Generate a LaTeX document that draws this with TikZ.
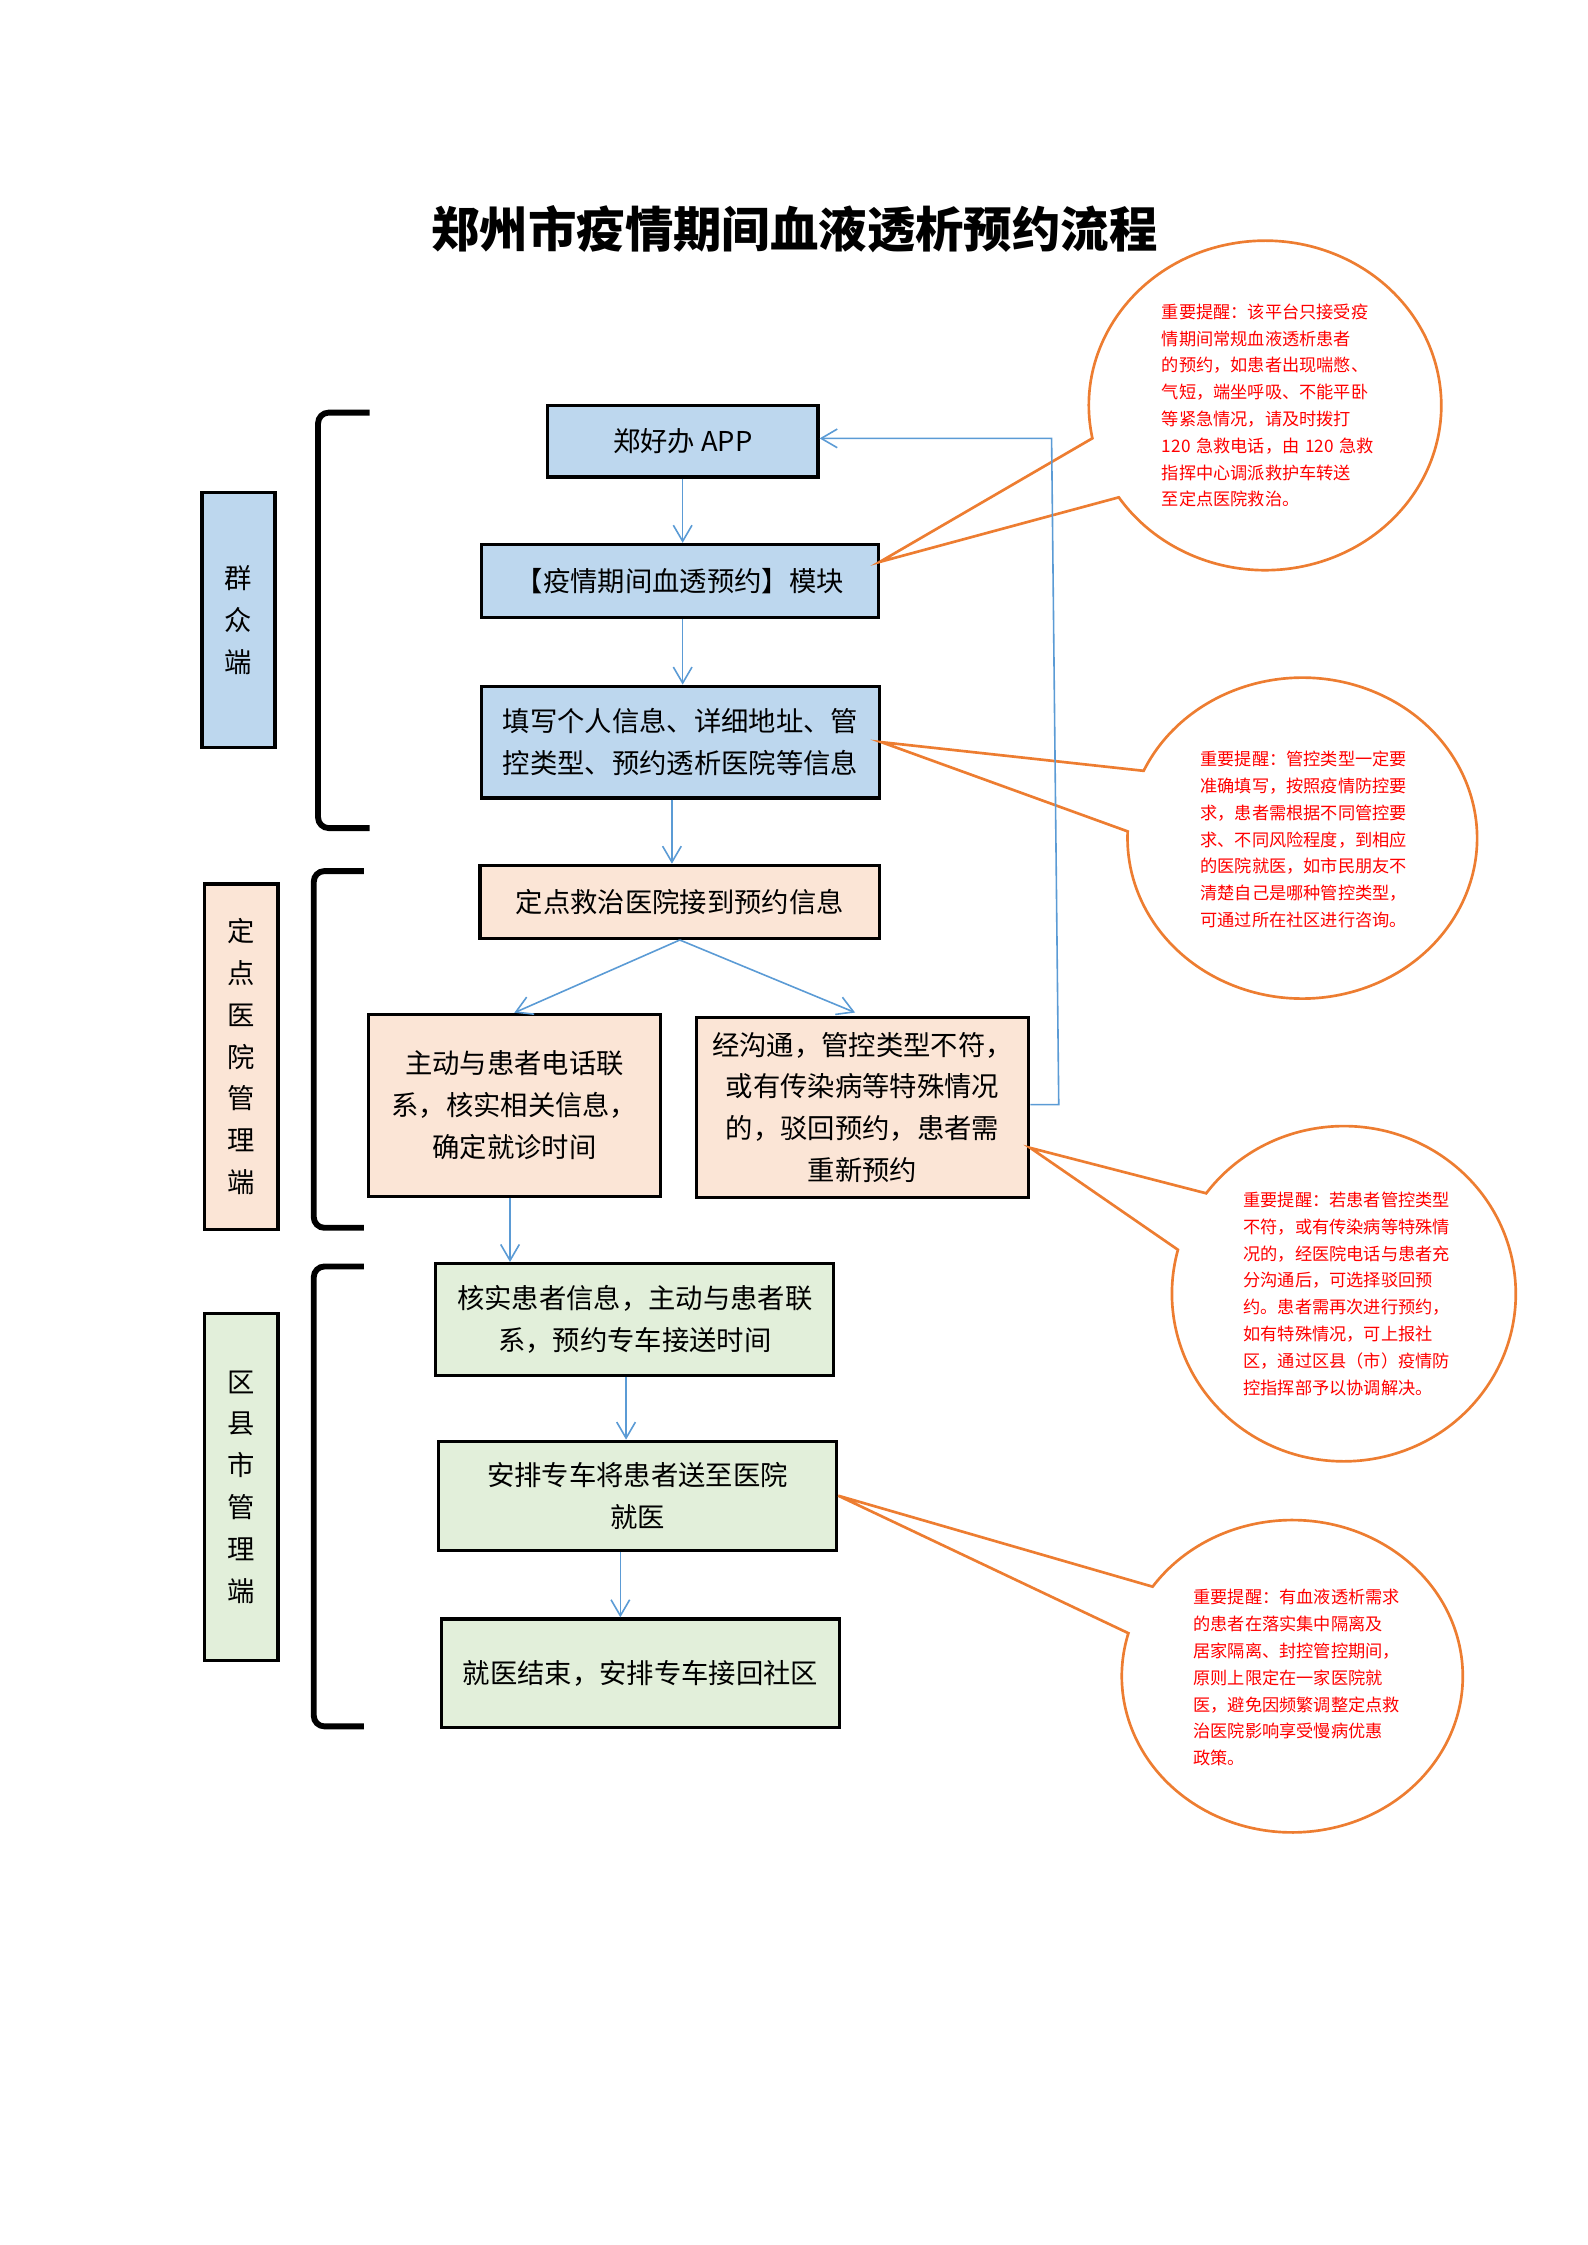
\documentclass[tikz,border=0pt]{standalone}
\usepackage{fontspec}
\setmainfont{Noto Sans CJK SC}
\XeTeXlinebreaklocale "zh"
\usetikzlibrary{arrows.meta, positioning, calc}
\newcommand{\upx}{0.5373pt}
\definecolor{boxblue}{HTML}{BDD7EE}
\definecolor{boxpeach}{HTML}{FBE5D6}
\definecolor{boxgreen}{HTML}{E2EFDA}
\definecolor{flowblue}{HTML}{5B9BD5}
\definecolor{noteorange}{HTML}{ED7D31}

\begin{document}
\begin{tikzpicture}[x=\upx, y=-\upx,
    box/.style={draw=black, line width=1.2pt, inner sep=0pt, align=center, font=\fontsize{10.25}{15.7}\selectfont},
    side/.style={box, minimum width=51*\upx},
    flow/.style={flowblue, line width=0.6pt, -{Straight Barb[length=6pt, width=7pt]}},
    callout/.style={noteorange, line width=1pt},
    note/.style={red, align=left, text width=150*\upx, inner sep=0pt, font=\fontsize{6.45}{10.05}\selectfont},
    bracket/.style={line width=2.2pt, rounded corners=4pt}]
    \useasboundingbox (0,0) rectangle (1108,1567);

    \node[font=\fontsize{18.15}{20}\selectfont\bfseries] (title) at (554.5,160) {郑州市疫情期间血液透析预约流程};

    \node[box, fill=boxblue, minimum width=189*\upx, minimum height=50*\upx] (app) at (476.5,308) {郑好办 APP};
    \node[box, fill=boxblue, minimum width=277*\upx, minimum height=51*\upx] (module) at (474.5,405.5) {【疫情期间血透预约】模块};
    \node[box, fill=boxblue, minimum width=278*\upx, minimum height=78*\upx] (info) at (475,518) {填写个人信息、详细地址、管\\控类型、预约透析医院等信息};
    \node[box, fill=boxpeach, minimum width=279*\upx, minimum height=51*\upx] (hosp) at (474.5,629.5) {定点救治医院接到预约信息};
    \node[box, fill=boxpeach, minimum width=204*\upx, minimum height=127*\upx] (call) at (359,771.5) {主动与患者电话联\\系，核实相关信息，\\确定就诊时间};
    \node[box, fill=boxpeach, minimum width=232*\upx, minimum height=126*\upx] (reject) at (602,773) {经沟通，管控类型不符，\\或有传染病等特殊情况\\的，驳回预约，患者需\\重新预约};
    \node[box, fill=boxgreen, minimum width=278*\upx, minimum height=78*\upx] (verify) at (443,921) {核实患者信息，主动与患者联\\系，预约专车接送时间};
    \node[box, fill=boxgreen, minimum width=278*\upx, minimum height=76*\upx] (send) at (445,1044) {安排专车将患者送至医院\\就医};
    \node[box, fill=boxgreen, minimum width=278*\upx, minimum height=76*\upx] (back) at (447,1168) {就医结束，安排专车接回社区};

    \node[side, fill=boxblue, minimum height=178*\upx] (crowd) at (166.5,433) {群\\众\\端};
    \node[side, fill=boxpeach, minimum height=241*\upx] (hospside) at (168.5,737.5) {定\\点\\医\\院\\管\\理\\端};
    \node[side, fill=boxgreen, minimum height=242*\upx] (county) at (168.5,1038) {区\\县\\市\\管\\理\\端};

    \draw[bracket] (258,288) -- (222,288) -- (222,578) -- (258,578);
    \draw[bracket] (254,608) -- (219,608) -- (219,857) -- (254,857);
    \draw[bracket] (254,884) -- (219,884) -- (219,1205) -- (254,1205);

    % callouts
    \coordinate (tip1) at ($(module.north east)!0.25!(module.south east)$);
    \coordinate (tip3) at ($(reject.north east)!0.72!(reject.south east)$);
    \draw[callout, shift={(883,283)}] (168.5:123 and 115) arc[start angle=168.5, end angle=506.1, x radius=123, y radius=115] -- (tip1) -- cycle;
    \draw[callout, shift={(909,585)}] (204.8:122 and 112) arc[start angle=204.8, end angle=542.4, x radius=122, y radius=112] -- (info.east) -- cycle;
    \draw[callout, shift={(938,903)}] (216.8:120 and 117) arc[start angle=216.8, end angle=555.2, x radius=120, y radius=117] -- (tip3) -- cycle;
    \draw[callout, shift={(902,1170)}] (215:119 and 109) arc[start angle=215, end angle=556, x radius=119, y radius=109] -- (send.east) -- cycle;

    \node[note] (note1) at (886,283) {重要提醒：该平台只接受疫\\情期间常规血液透析患者\\的预约，如患者出现喘憋、\\气短，端坐呼吸、不能平卧\\等紧急情况，请及时拨打\\120 急救电话，由 120 急救\\指挥中心调派救护车转送\\至定点医院救治。};
    \node[note] (note2) at (913,586) {重要提醒：管控类型一定要\\准确填写，按照疫情防控要\\求，患者需根据不同管控要\\求、不同风险程度，到相应\\的医院就医，如市民朋友不\\清楚自己是哪种管控类型，\\可通过所在社区进行咨询。};
    \node[note] (note3) at (943,903) {重要提醒：若患者管控类型\\不符，或有传染病等特殊情\\况的，经医院电话与患者充\\分沟通后，可选择驳回预\\约。患者需再次进行预约，\\如有特殊情况，可上报社\\区，通过区县（市）疫情防\\控指挥部予以协调解决。};
    \node[note] (note4) at (908,1171) {重要提醒：有血液透析需求\\的患者在落实集中隔离及\\居家隔离、封控管控期间，\\原则上限定在一家医院就\\医，避免因频繁调整定点救\\治医院影响享受慢病优惠\\政策。};

    \draw[flow] (app.south) -- (app.south |- module.north);
    \draw[flow] (app.south |- module.south) -- (app.south |- info.north);
    \draw[flow] ([xshift=-6*\upx]info.south) -- ([xshift=-6*\upx]info.south |- hosp.north);
    \draw[flow] (hosp.south) -- (call.north);
    \draw[flow, shorten >=3pt] (hosp.south) -- (reject.north);
    \draw[flow] ([xshift=-3*\upx]call.south) -- ([xshift=-3*\upx]call.south |- verify.north);
    \draw[flow] ([xshift=-6*\upx]verify.south) -- ([xshift=-6*\upx]verify.south |- send.north);
    \draw[flow] ([xshift=-12*\upx]send.south) -- ([xshift=-12*\upx]send.south |- back.north);

    \coordinate (loopbot) at (739,771);
    \coordinate (looptop) at (734,306);
    \draw[flow] (loopbot -| reject.east) -- (loopbot) -- (looptop) -- (looptop -| app.east);
\end{tikzpicture}
\end{document}
